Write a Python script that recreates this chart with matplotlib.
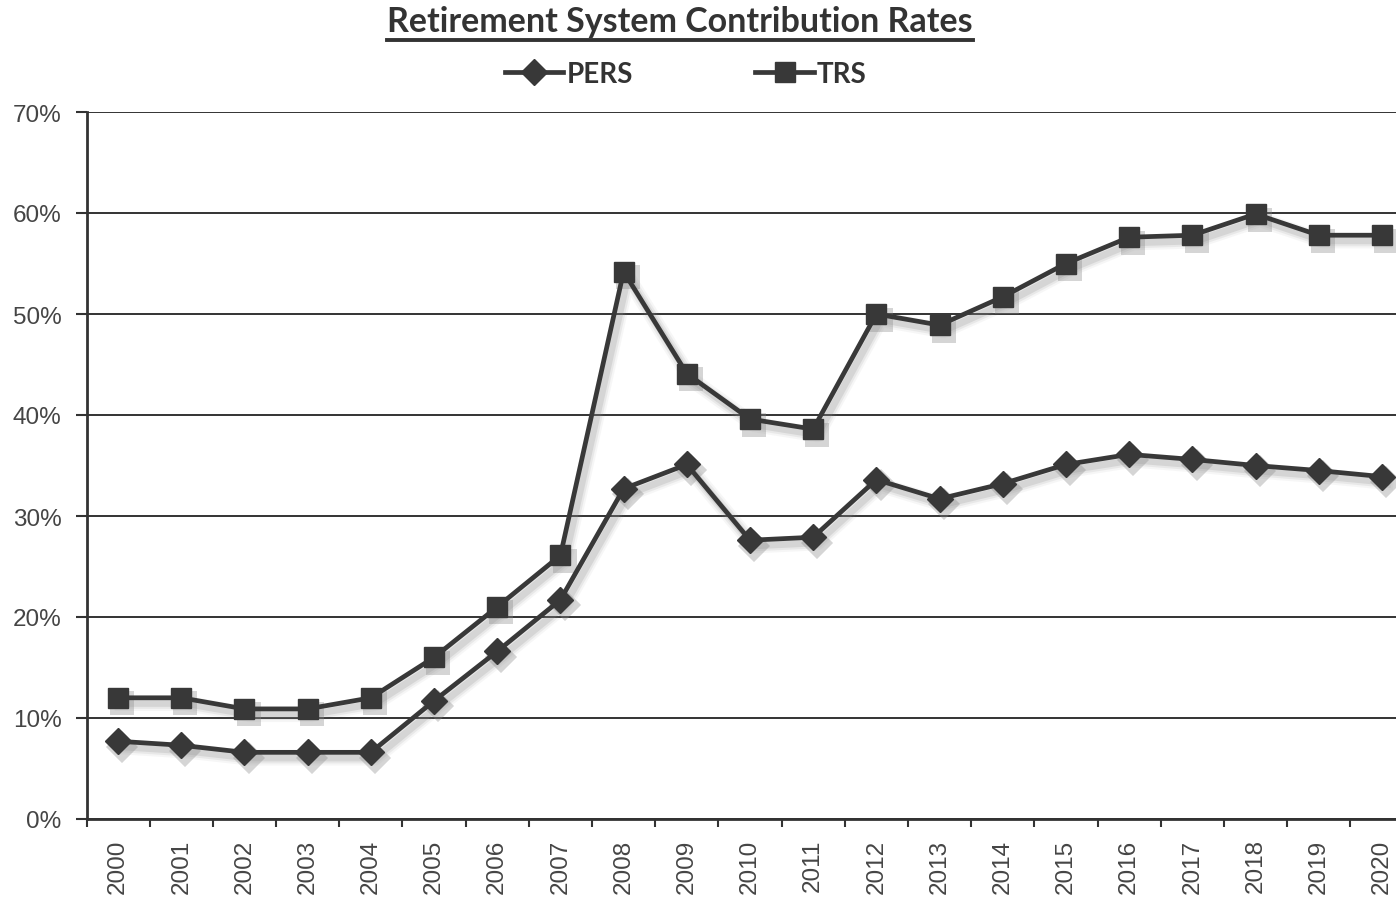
import matplotlib
matplotlib.use("Agg")
import matplotlib.pyplot as plt
import matplotlib.transforms as mtransforms
from matplotlib.lines import Line2D
from matplotlib.ticker import FixedLocator, PercentFormatter

years = [str(y) for y in range(2000, 2021)]
pers = [7.7, 7.3, 6.6, 6.6, 6.6, 11.7, 16.6, 21.7, 32.7, 35.1, 27.6, 27.9,
        33.6, 31.7, 33.2, 35.1, 36.1, 35.6, 35.0, 34.5, 33.9]
trs = [12.0, 12.0, 10.9, 10.9, 12.0, 16.0, 21.0, 26.1, 54.2, 44.1, 39.6, 38.6,
       50.0, 48.9, 51.7, 55.0, 57.6, 57.8, 59.9, 57.8, 57.8]
title = "Retirement System Contribution Rates"

line_color = "#383838"
label_color = "#454545"

fig = plt.figure(figsize=(13.96, 9.04), dpi=100)
ax = fig.add_axes([86.5 / 1396, 84 / 904, 1327 / 1396, 707 / 904])

x = list(range(len(years)))


def shadowed(values, marker, msize, label):
    # soft drop shadow built from a few offset translucent strokes
    for w, a in [(11, 0.07), (8, 0.12), (5, 0.2)]:
        off = mtransforms.offset_copy(ax.transData, fig=fig, x=3, y=-4, units="points")
        ax.plot(x, values, color="#8a8a8a", lw=w, alpha=a, marker=marker,
                markersize=msize + 3, markeredgewidth=0, transform=off,
                solid_joinstyle="round", zorder=2)
    ax.plot(x, values, color=line_color, lw=3.4, marker=marker,
            markersize=msize, markerfacecolor=line_color,
            markeredgecolor=line_color, label=label, zorder=3)


shadowed(pers, "D", 13, "PERS")
shadowed(trs, "s", 14, "TRS")

ax.set_xlim(-0.5, len(years) - 0.5)
ax.set_ylim(0, 70)
ax.set_xticks(x)
ax.set_xticklabels(years, rotation=90, fontsize=17.5, color=label_color,
                   family="Liberation Sans")
ax.xaxis.set_minor_locator(FixedLocator([i + 0.5 for i in range(-1, len(years))]))
ax.tick_params(axis="x", which="major", length=0, pad=14)
ax.tick_params(axis="x", which="minor", length=6, width=1.5, color="#333333",
               direction="out")
ax.set_yticks(range(0, 71, 10))
ax.yaxis.set_major_formatter(PercentFormatter(decimals=0))
ax.tick_params(axis="y", length=8, width=1.5, color="#333333", pad=10,
               labelsize=17.5, labelcolor=label_color)
for lab in ax.get_yticklabels():
    lab.set_family("Liberation Sans")

ax.grid(axis="y", color="#333333", lw=1.4, zorder=1)
for s in ["top", "right"]:
    ax.spines[s].set_visible(False)
for s in ["left", "bottom"]:
    ax.spines[s].set_color("#333333")
    ax.spines[s].set_linewidth(2)

handles = [
    Line2D([], [], color=line_color, lw=3.4, marker="D", markersize=13),
    Line2D([], [], color=line_color, lw=3.4, marker="s", markersize=14),
]
leg = fig.legend(handles, ["PERS", "TRS"], loc="center", ncol=2,
                 bbox_to_anchor=(686 / 1396, 1 - 75 / 904), frameon=False,
                 handlelength=2.1, columnspacing=4.4, handletextpad=0.12,
                 prop={"family": "Lato", "weight": "bold", "size": 20})
for t in leg.get_texts():
    t.set_color("#333333")

ttl = fig.text(680 / 1396, 1 - 22 / 904, title, ha="center", va="center",
               family="Lato", weight="bold", fontsize=24.5, color="#333333")

fig.canvas.draw()
bb = ttl.get_window_extent().transformed(fig.transFigure.inverted())
uy = bb.y0 - 3 / 904
fig.add_artist(Line2D([bb.x0, bb.x1], [uy, uy], transform=fig.transFigure,
                      color="#333333", lw=2.8))

fig.savefig("out.png", dpi=100)
